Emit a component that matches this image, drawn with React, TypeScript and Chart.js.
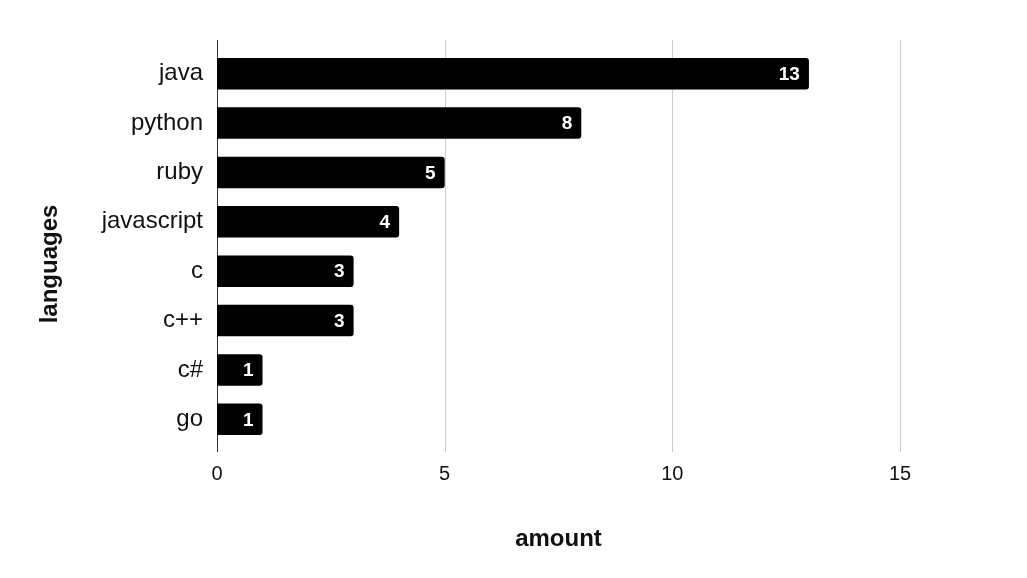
import React, { useEffect, useRef } from "react";
import { Chart, registerables } from "chart.js";

Chart.register(...registerables);

const categories = ["java", "python", "ruby", "javascript", "c", "c++", "c#", "go"];
const amounts = [13, 8, 5, 4, 3, 3, 1, 1];
const xTickValues = [0, 5, 10, 15];
const xAxisTitle = "amount";
const yAxisTitle = "languages";

const FONT = 'Arial, "Liberation Sans", Helvetica, sans-serif';

const gridPlugin = {
  id: "extGrid",
  beforeDatasetsDraw(chart: any) {
    const { ctx, chartArea, scales } = chart;
    const x = scales.x;
    ctx.save();
    xTickValues.forEach((v) => {
      const px = Math.round(x.getPixelForValue(v)) + 0.5;
      ctx.beginPath();
      ctx.strokeStyle = v === 0 ? "#333333" : "#cccccc";
      ctx.lineWidth = 1;
      ctx.moveTo(px, chartArea.top - 9);
      ctx.lineTo(px, chartArea.bottom + 8);
      ctx.stroke();
    });
    ctx.restore();
  },
};

const labelPlugin = {
  id: "barLabels",
  afterDatasetsDraw(chart: any) {
    const { ctx } = chart;
    const meta = chart.getDatasetMeta(0);
    ctx.save();
    ctx.fillStyle = "#ffffff";
    ctx.font = `bold 19px ${FONT}`;
    ctx.textAlign = "right";
    ctx.textBaseline = "middle";
    meta.data.forEach((el: any, i: number) => {
      ctx.fillText(String(amounts[i]), el.x - 9, el.y + 1);
    });
    ctx.restore();
  },
};

const titlePlugin = {
  id: "axisTitles",
  afterDraw(chart: any) {
    const { ctx, chartArea } = chart;
    ctx.save();
    ctx.fillStyle = "#111111";
    ctx.font = `bold 24px ${FONT}`;
    ctx.textAlign = "center";
    ctx.textBaseline = "middle";
    ctx.fillText(xAxisTitle, (chartArea.left + chartArea.right) / 2, 539);
    ctx.translate(50, 264);
    ctx.rotate(-Math.PI / 2);
    ctx.fillText(yAxisTitle, 0, 0);
    ctx.restore();
  },
};

export default function App() {
  const ref = useRef<HTMLCanvasElement | null>(null);

  useEffect(() => {
    if (!ref.current) return;
    const chart = new Chart(ref.current, {
      type: "bar",
      data: {
        labels: categories,
        datasets: [
          {
            data: amounts,
            backgroundColor: "#000000",
            borderRadius: 3,
            borderSkipped: "start",
            categoryPercentage: 1,
            barPercentage: 0.64,
          },
        ],
      },
      options: {
        indexAxis: "y",
        animation: false,
        responsive: true,
        maintainAspectRatio: false,
        layout: { padding: { left: 0, right: 127, top: 49, bottom: 0 } },
        plugins: {
          legend: { display: false },
          tooltip: { enabled: false },
        },
        scales: {
          x: {
            min: 0,
            max: 15,
            afterFit: (s: any) => {
              s.height = 134;
            },
            afterBuildTicks: (s: any) => {
              s.ticks = xTickValues.map((v) => ({ value: v }));
            },
            grid: { display: false, drawTicks: false },
            border: { display: false },
            ticks: {
              padding: 18,
              color: "#111111",
              font: { family: FONT, size: 20 },
            },
          },
          y: {
            afterFit: (s: any) => {
              s.width = 217;
            },
            grid: { display: false, drawTicks: false },
            border: { display: false },
            ticks: {
              padding: 14,
              color: "#111111",
              font: { family: FONT, size: 24 },
            },
          },
        },
      },
      plugins: [gridPlugin, labelPlugin, titlePlugin],
    });
    return () => chart.destroy();
  }, []);

  return (
    <div style={{ position: "fixed", left: 0, top: 0, width: 1027, height: 578, background: "#ffffff" }}>
      <canvas ref={ref} />
    </div>
  );
}
